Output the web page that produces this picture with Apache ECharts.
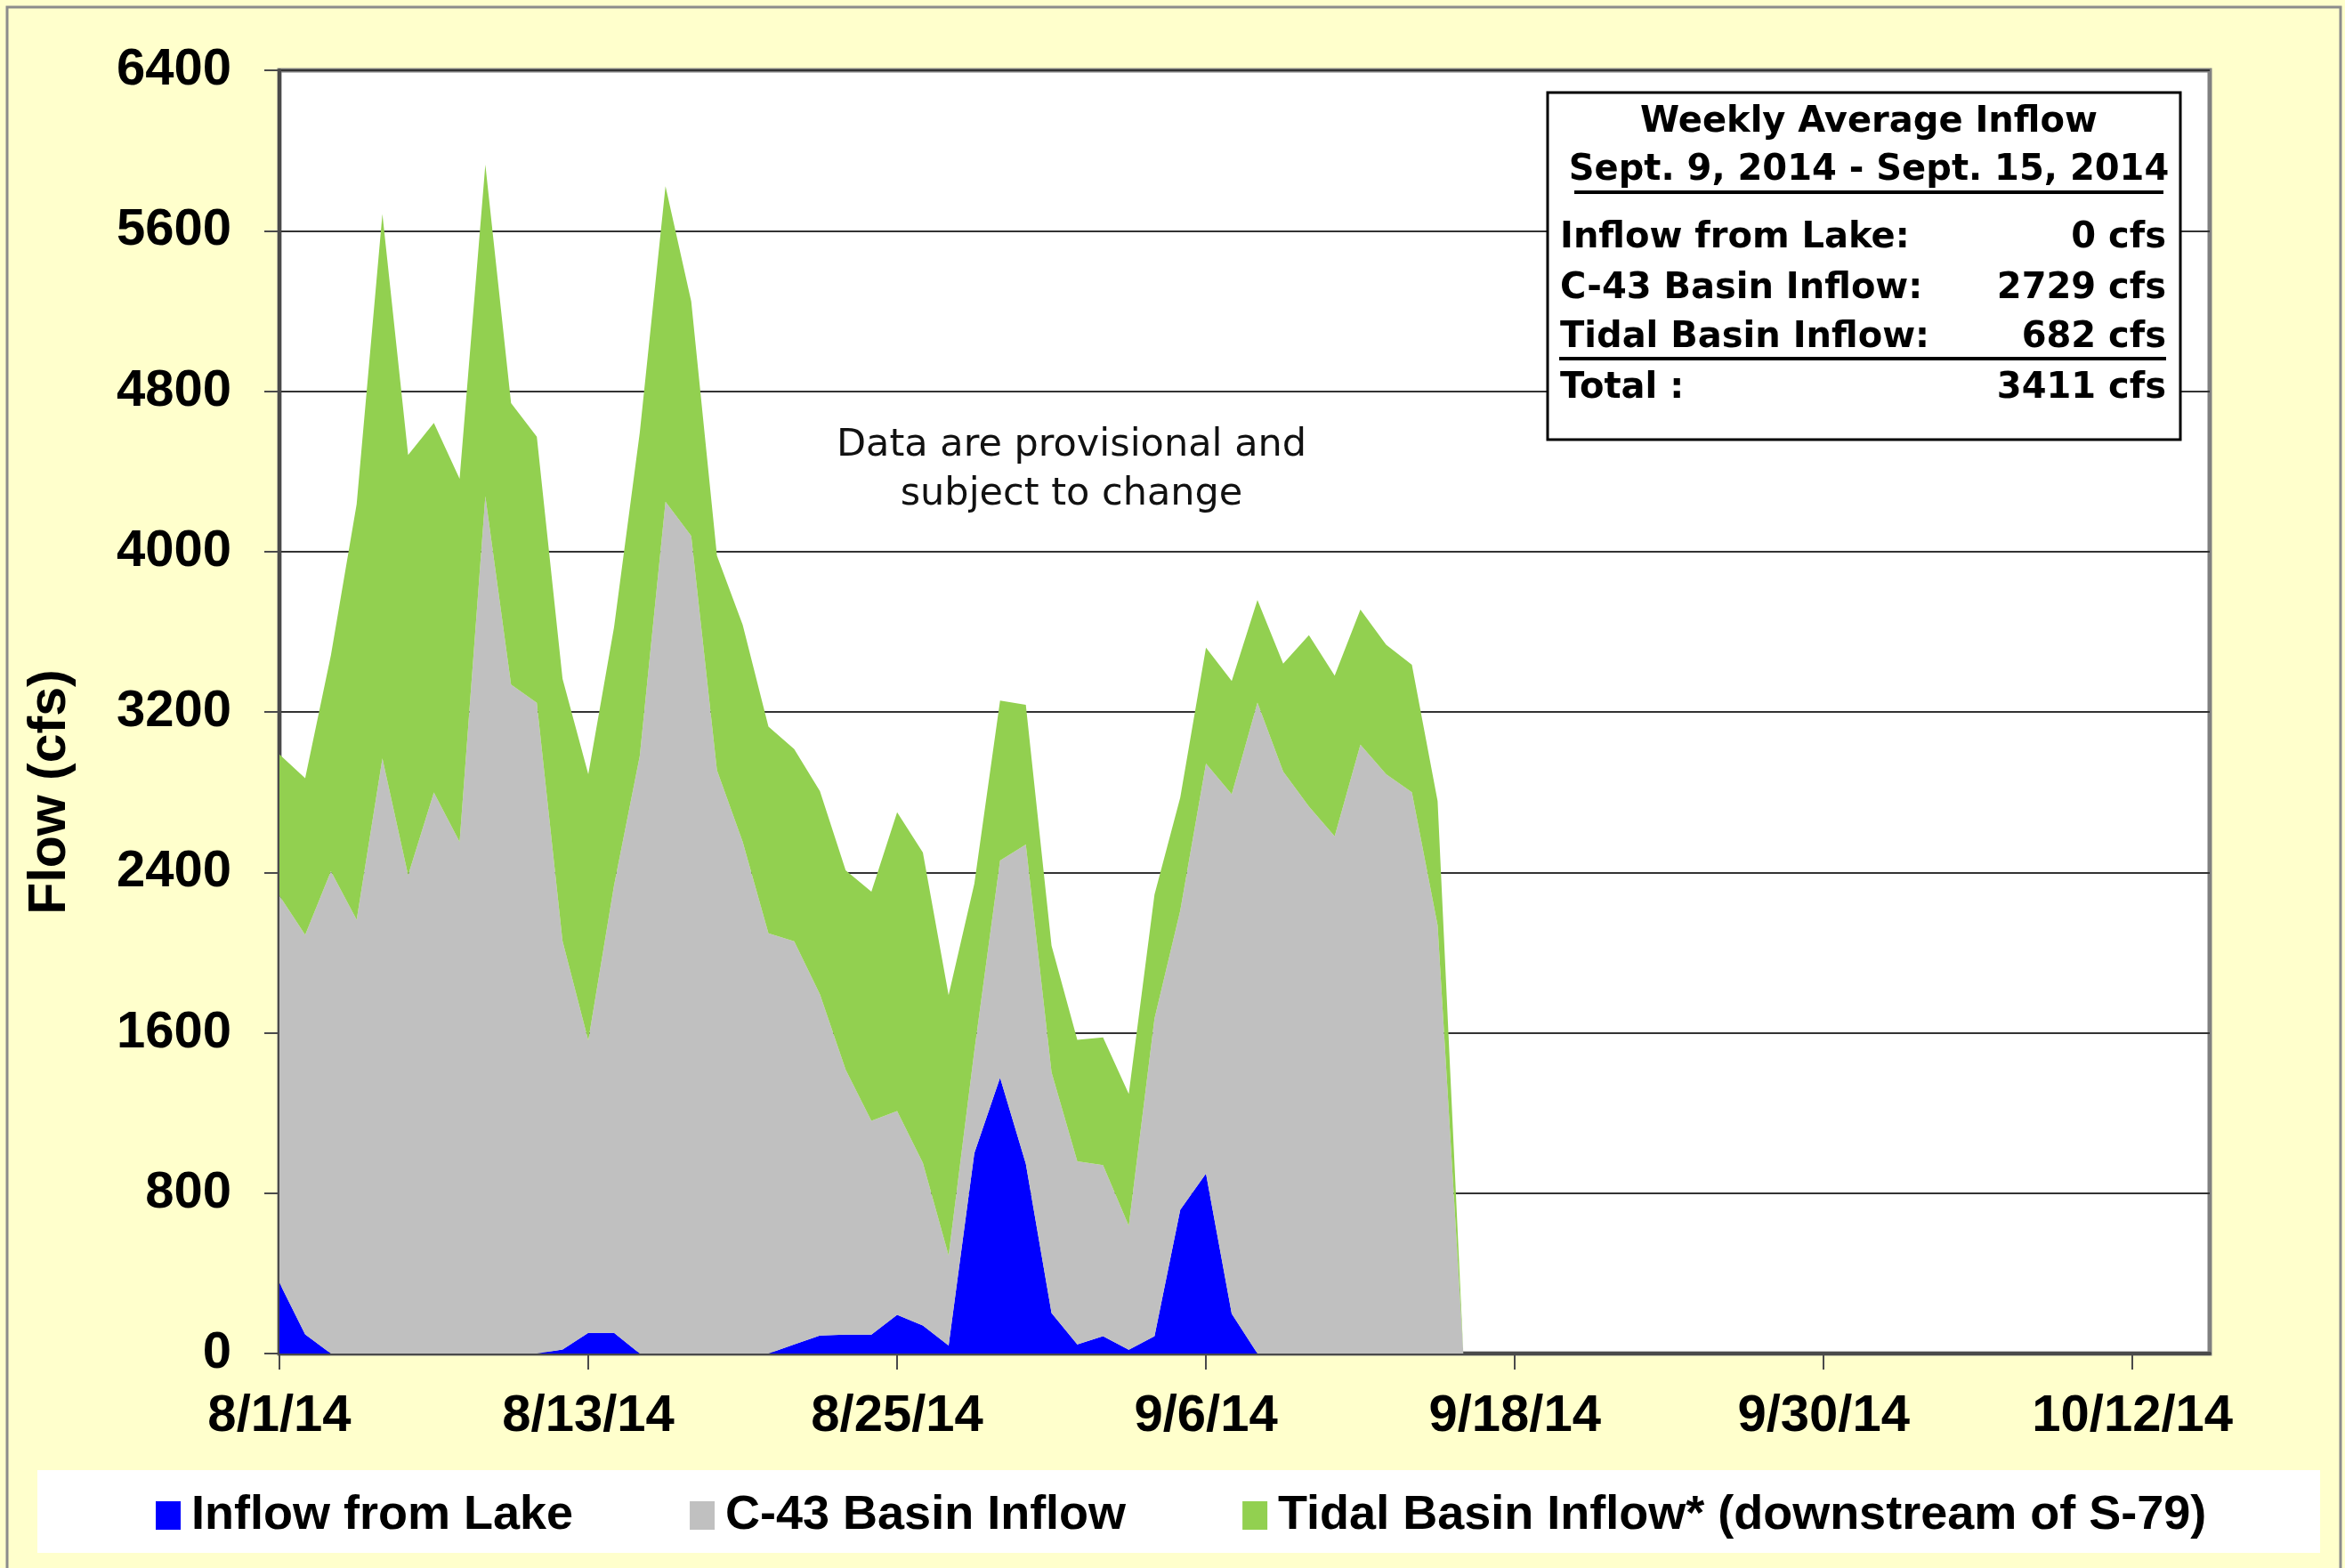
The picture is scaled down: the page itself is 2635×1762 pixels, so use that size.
<!DOCTYPE html>
<html>
<head>
<meta charset="utf-8">
<script src="https://cdn.jsdelivr.net/npm/echarts@6/dist/echarts.min.js"></script>
<style>
html,body{margin:0;padding:0;background:#FFFFCC;}
#chart{width:2635px;height:1762px;}
</style>
</head>
<body>
<div id="chart"></div>
<script>
// ---- categories (daily, 8/1/14 .. 10/15/14) ----
const categories = [
  '8/1/14','8/2/14','8/3/14','8/4/14','8/5/14','8/6/14','8/7/14','8/8/14','8/9/14','8/10/14',
  '8/11/14','8/12/14','8/13/14','8/14/14','8/15/14','8/16/14','8/17/14','8/18/14','8/19/14','8/20/14',
  '8/21/14','8/22/14','8/23/14','8/24/14','8/25/14','8/26/14','8/27/14','8/28/14','8/29/14','8/30/14',
  '8/31/14','9/1/14','9/2/14','9/3/14','9/4/14','9/5/14','9/6/14','9/7/14','9/8/14','9/9/14',
  '9/10/14','9/11/14','9/12/14','9/13/14','9/14/14','9/15/14','9/16/14','9/17/14','9/18/14','9/19/14',
  '9/20/14','9/21/14','9/22/14','9/23/14','9/24/14','9/25/14','9/26/14','9/27/14','9/28/14','9/29/14',
  '9/30/14','10/1/14','10/2/14','10/3/14','10/4/14','10/5/14','10/6/14','10/7/14','10/8/14','10/9/14',
  '10/10/14','10/11/14','10/12/14','10/13/14','10/14/14','10/15/14'
];

// ---- series values (cfs), 8/1/14 .. 9/16/14 ----
const lakeInflow = [
  353, 95, 0, 0, 0, 0, 0, 0, 0, 0,
  0, 20, 103, 103, 0, 0, 0, 0, 0, 0,
  45, 90, 94, 94, 193, 140, 40, 1000, 1376, 946,
  202, 46, 86, 19, 86, 717, 898, 199, 0, 0,
  0, 0, 0, 0, 0, 0, 0
];
const c43Inflow = [
  1930, 1993, 2406, 2164, 2968, 2386, 2798, 2552, 4276, 3337,
  3246, 2037, 1458, 2231, 2980, 4248, 4078, 2909, 2552, 2096,
  2011, 1702, 1322, 1067, 1016, 811, 449, 510, 1083, 1593,
  1201, 913, 854, 618, 1585, 1492, 2045, 2591, 3247, 2903,
  2728, 2580, 3037, 2889, 2800, 2136, 0
];
const tidalInflow = [
  705, 781, 1077, 2072, 2715, 2096, 1843, 1811, 1653, 1403,
  1327, 1308, 1328, 1288, 1613, 1574, 1169, 1070, 1082, 1031,
  959, 1013, 994, 1142, 1491, 1548, 1298, 833, 798, 696,
  631, 605, 637, 658, 618, 564, 578, 564, 511, 538,
  855, 801, 673, 646, 635, 619, 0
];

const seriesNames = ['Inflow from Lake', 'C-43 Basin Inflow', 'Tidal Basin Inflow* (downstream of S-79)'];
const seriesColors = ['#0000FF', '#C0C0C0', '#92D050'];

// ---- axis ----
const yMin = 0, yMax = 6400, yInterval = 800;
const xLabelEvery = 12; // days between tick labels

// ---- summary box text ----
const boxTitle = ['Weekly Average Inflow', 'Sept. 9, 2014 - Sept. 15, 2014'];
const summaryLabels = ['Inflow from Lake:', 'C-43 Basin Inflow:', 'Tidal Basin Inflow:', 'Total :'];
const summaryValues = ['0 cfs', '2729 cfs', '682 cfs', '3411 cfs'];
const noteText = 'Data are provisional and\nsubject to change';

const chart = echarts.init(document.getElementById('chart'));

const AX = 'Liberation Sans';
const BOXF = 'DejaVu Sans';

const graphics = [
  // outer chart border
  { type: 'rect', z: 0, silent: true,
    shape: { x: 8, y: 8, width: 2622, height: 1780 },
    style: { fill: 'none', stroke: '#8c8c8c', lineWidth: 3 } },
  // legend white panel
  { type: 'rect', z: 0, silent: true,
    shape: { x: 42, y: 1652, width: 2565, height: 93 },
    style: { fill: '#FFFFFF' } },
  // summary box
  { type: 'rect', z: 10, silent: true,
    shape: { x: 1739, y: 104, width: 711, height: 390 },
    style: { fill: '#FFFFFF', stroke: '#000000', lineWidth: 3 } },
  { type: 'text', z: 11, silent: true, x: 2100, y: 138,
    style: { text: boxTitle[0], fontFamily: BOXF, fontWeight: 'bold', fontSize: 40, fill: '#000', align: 'center', verticalAlign: 'middle' } },
  { type: 'text', z: 11, silent: true, x: 2100, y: 192,
    style: { text: boxTitle[1], fontFamily: BOXF, fontWeight: 'bold', fontSize: 40, fill: '#000', align: 'center', verticalAlign: 'middle' } },
  { type: 'line', z: 11, silent: true,
    shape: { x1: 1769, y1: 216, x2: 2431, y2: 216 },
    style: { stroke: '#000', lineWidth: 4 } },
  { type: 'line', z: 11, silent: true,
    shape: { x1: 1752, y1: 403, x2: 2434, y2: 403 },
    style: { stroke: '#000', lineWidth: 4 } }
];
const rowY = [268, 325, 380, 437];
summaryLabels.forEach((t, i) => {
  graphics.push({ type: 'text', z: 11, silent: true, x: 1753, y: rowY[i],
    style: { text: t, fontFamily: BOXF, fontWeight: 'bold', fontSize: 40, fill: '#000', align: 'left', verticalAlign: 'middle' } });
  graphics.push({ type: 'text', z: 11, silent: true, x: 2434, y: rowY[i],
    style: { text: summaryValues[i], fontFamily: BOXF, fontWeight: 'bold', fontSize: 40, fill: '#000', align: 'right', verticalAlign: 'middle' } });
});
graphics.push({ type: 'text', z: 11, silent: true, x: 1204, y: 528,
  style: { text: noteText, fontFamily: BOXF, fontSize: 43, lineHeight: 55, fill: '#111', align: 'center', verticalAlign: 'middle' } });

const seriesData = [lakeInflow, c43Inflow, tidalInflow];

chart.setOption({
  animation: false,
  backgroundColor: '#FFFFCC',
  graphic: { elements: graphics },
  grid: {
    left: 314, right: 152, top: 79, bottom: 241,
    containLabel: false, outerBoundsMode: 'none',
    show: true, backgroundColor: '#FFFFFF', borderColor: '#808080', borderWidth: 5
  },
  legend: {
    left: 175, top: 1676, padding: 0,
    itemWidth: 28, itemHeight: 32, itemGap: 131,
    icon: 'rect',
    selectedMode: false,
    data: seriesNames,
    textStyle: { fontFamily: AX, fontWeight: 'bold', fontSize: 54, color: '#000', padding: [0, 0, 0, 7] }
  },
  xAxis: {
    type: 'category',
    data: categories,
    boundaryGap: false,
    axisLine: { show: true, onZero: false, lineStyle: { color: '#4a4a4a', width: 4 } },
    axisTick: { show: true, interval: xLabelEvery - 1, length: 18, lineStyle: { color: '#4a4a4a', width: 2 } },
    axisLabel: { interval: xLabelEvery - 1, margin: 42, fontFamily: AX, fontWeight: 'bold', fontSize: 58, color: '#000' },
    splitLine: { show: false }
  },
  yAxis: {
    type: 'value',
    min: yMin, max: yMax, interval: yInterval,
    name: 'Flow (cfs)',
    nameLocation: 'middle',
    nameRotate: 90,
    nameGap: 228,
    nameTextStyle: { fontFamily: AX, fontWeight: 'bold', fontSize: 59, color: '#000', padding: [0, 180, 0, 0] },
    axisLine: { show: true, lineStyle: { color: '#4a4a4a', width: 4 } },
    axisTick: { show: true, length: 17, lineStyle: { color: '#4a4a4a', width: 2 } },
    axisLabel: { margin: 54, fontFamily: AX, fontWeight: 'bold', fontSize: 58, color: '#000',
      formatter: (v) => String(v) },
    splitLine: { show: true, lineStyle: { color: '#333333', width: 2 } }
  },
  series: seriesNames.map((name, i) => ({
    name: name,
    type: 'line',
    stack: 'flow',
    data: seriesData[i],
    symbol: 'none',
    showSymbol: false,
    smooth: false,
    lineStyle: { width: 0, color: seriesColors[i] },
    itemStyle: { color: seriesColors[i] },
    areaStyle: { color: seriesColors[i], opacity: 1 },
    emphasis: { disabled: true },
    z: 2 + i
  }))
});
</script>
</body>
</html>
